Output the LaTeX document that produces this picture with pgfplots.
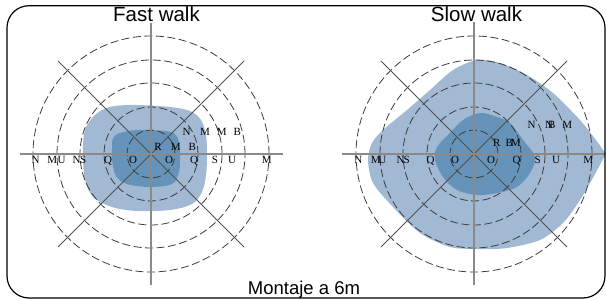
\documentclass[border=0pt]{standalone}
\usepackage{pgfplots}
\pgfplotsset{compat=1.18}
\usepackage{fontspec}
\setmainfont{Liberation Sans}
\newfontfamily\serf{Liberation Serif}
\definecolor{lightblob}{RGB}{162,185,211}
\definecolor{darkblob}{RGB}{101,147,185}
\definecolor{axgray}{RGB}{138,138,138}
\definecolor{diag}{RGB}{80,80,80}
\definecolor{circ}{RGB}{60,60,60}
\newcommand\lf{\serf\fontsize{11}{12}\selectfont}
\newcommand\lab[3]{\node[anchor=base,font=\lf,inner sep=0pt] at (axis cs:#1,#2) {#3};}
\begin{document}
\begin{tikzpicture}
\begin{axis}[width=606pt,height=300pt,scale only axis,
  xmin=0,xmax=606,ymin=0,ymax=300,hide axis,clip=false]
\path (axis cs:0,0) rectangle (axis cs:606,300);
% ---- Fast walk blobs
\addplot[fill=lightblob,draw=none,smooth cycle,tension=0.55] coordinates {
(85,170)(92,182)(102,190)(115,194)(137,195)(170,193)(190,189)(201,180)(206,165)(207,145)
(206,125)(202,108)(192,96)(170,90)(137,89)(112,93)(93,103)(85,120)(83,140)(83,155)};
\addplot[fill=darkblob,draw=none,smooth cycle,tension=0.55] coordinates {
(113,162)(120,167)(137,170)(165,169)(175,166)(179,158)(180,145)(179,128)(172,116)(150,113)
(127,116)(116,124)(112,140)(112,152)};
% ---- Slow walk blobs
\addplot[fill=lightblob,draw=none,smooth cycle,tension=0.5] coordinates {
(477,240)(500,237)(527,225)(553,207)(580,180)(596,160)(603,150)(606,146)(603,141)(594,124)(580,100)(563,77)
(540,60)(507,52)(480,51)(450,53)(420,67)(393,93)(373,117)(368,140)(372,157)(383,170)
(407,190)(430,210)(453,230)};
\addplot[fill=darkblob,draw=none,smooth cycle,tension=0.55] coordinates {
(480,187)(497,183)(510,177)(523,160)(535,143)(530,127)(517,113)(497,107)(477,105)(457,110)
(443,123)(435,140)(437,153)(450,167)(463,180)};
% ---- circles
\pgfplotsinvokeforeach{24,47,71,94,118}{
  \draw[circ,line width=0.8pt,dash pattern=on 8pt off 3.5pt] (axis cs:151,146) circle[radius=#1];
  \draw[circ,line width=0.8pt,dash pattern=on 8pt off 3.5pt] (axis cs:474,146) circle[radius=#1];
}
% ---- spokes
\addplot[diag,line width=0.9pt] coordinates {(58,239)(244,53)};
\addplot[diag,line width=0.9pt] coordinates {(58,53)(244,239)};
\addplot[diag,line width=0.9pt] coordinates {(381,239)(567,53)};
\addplot[diag,line width=0.9pt] coordinates {(381,53)(567,239)};
\addplot[axgray,line width=1.5pt] coordinates {(20,146)(283,146)};
\addplot[axgray,line width=1.5pt] coordinates {(151,277)(151,15)};
\addplot[axgray,line width=1.5pt] coordinates {(342,146)(605,146)};
\addplot[axgray,line width=1.5pt] coordinates {(474,278)(474,15)};
% ---- labels left
\lab{35.7}{136}{N}\lab{52.3}{136}{M}\lab{61.7}{136}{U}\lab{76.7}{136}{N}\lab{83.3}{136}{S}
\lab{108}{136}{Q}\lab{133}{136}{O}\lab{169}{136}{O}\lab{194}{136}{Q}\lab{215}{136}{S}
\lab{232}{136}{U}\lab{266.7}{136}{M}
\lab{158}{149.4}{R}\lab{175.7}{149.4}{M}\lab{192.3}{149.4}{B}
\lab{186.7}{164}{N}\lab{205}{164}{M}\lab{221.7}{164}{M}\lab{237.3}{164}{B}
% ---- labels right
\lab{358.3}{136.7}{N}\lab{375.7}{136.7}{M}\lab{382.3}{136.7}{U}\lab{400.7}{136.7}{N}\lab{406.7}{136.7}{S}
\lab{430.7}{136.7}{Q}\lab{455}{136.7}{O}\lab{491}{136.7}{O}\lab{516.7}{136.7}{Q}\lab{537.7}{136.7}{S}
\lab{556}{136.7}{U}\lab{588.3}{136.7}{M}
\lab{496.7}{153.4}{R}\lab{509.3}{153.4}{B}\lab{515.7}{153.4}{M}
\lab{531.7}{171.7}{N}\lab{549}{171.7}{N}\lab{551.7}{171.7}{B}\lab{567.3}{171.7}{M}
% ---- titles and frame
\node[anchor=base,font=\fontsize{20.5}{24}\selectfont,inner sep=0pt] at (axis cs:156.5,278.3) {Fast walk};
\node[anchor=base,font=\fontsize{20.5}{24}\selectfont,inner sep=0pt] at (axis cs:476.5,278.3) {Slow walk};
\node[anchor=base,font=\fontsize{18.5}{22}\selectfont,inner sep=0pt] at (axis cs:304,5) {Montaje a 6m};
\draw[black,line width=1.2pt,rounded corners=22pt] (axis cs:7,2) rectangle (axis cs:605,294.3);
\end{axis}
\end{tikzpicture}
\end{document}
